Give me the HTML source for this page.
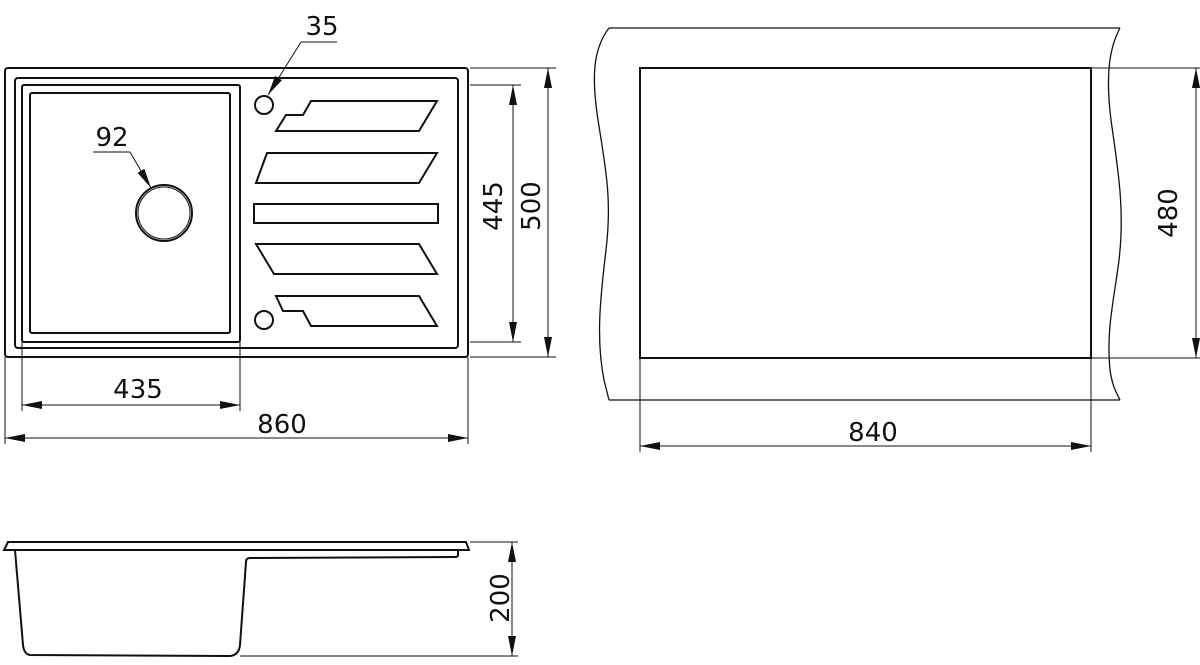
<!DOCTYPE html>
<html><head><meta charset="utf-8"><style>html,body{margin:0;padding:0;background:#fff}</style></head><body>
<svg width="1200" height="660" viewBox="0 0 1200 660" xmlns="http://www.w3.org/2000/svg" font-family="DejaVu Sans, Liberation Sans, sans-serif" font-size="26" fill="none" stroke="#111">
<defs>
<marker id="a" viewBox="0 0 20 8" refX="20" refY="4" markerWidth="20" markerHeight="8" markerUnits="userSpaceOnUse" orient="auto-start-reverse"><path d="M0,0 L20,4 L0,8 z" fill="#111" stroke="none"/></marker>
</defs>
<g stroke-width="2">
<rect x="5" y="68" width="463" height="289" rx="3"/>
<rect x="15" y="78" width="443" height="270" rx="3"/>
<rect x="22" y="85" width="218" height="257" rx="2"/>
<rect x="30" y="93" width="200" height="240" rx="2"/>
<circle cx="164" cy="213" r="28"/>
<circle cx="164" cy="213" r="26" stroke-width="1"/>
<circle cx="264" cy="105" r="9"/>
<circle cx="264" cy="320" r="9"/>
<path d="M276,131 L286,115 L303,115 L311,101 L437,101 L419,131 Z"/>
<path d="M256,183 L267,153 L437,153 L419,183 Z"/>
<rect x="254" y="204" width="184" height="19"/>
<path d="M256,244 L419,244 L437,274 L274,274 Z"/>
<path d="M276,296 L419,296 L437,326 L311,326 L303,311 L283,311 Z"/>
</g>
<g stroke-width="1">
<path d="M22,342 V411 M240,342 V411 M5,357 V444 M468,357 V444"/>
<path d="M470,85 H521 M470,342 H521 M470,68 H556 M470,357 H556"/>
<line x1="22" y1="405" x2="240" y2="405" marker-start="url(#a)" marker-end="url(#a)"/>
<line x1="5" y1="438" x2="468" y2="438" marker-start="url(#a)" marker-end="url(#a)"/>
<line x1="513" y1="85" x2="513" y2="342" marker-start="url(#a)" marker-end="url(#a)"/>
<line x1="548" y1="68" x2="548" y2="357" marker-start="url(#a)" marker-end="url(#a)"/>
<path d="M337,42 H301"/><line x1="301" y1="42" x2="268" y2="95" marker-end="url(#a)"/>
<path d="M93,152 H130"/><line x1="130" y1="152" x2="151" y2="188" marker-end="url(#a)"/>
</g>
<g fill="#111" stroke="none">
<text x="138" y="398" text-anchor="middle">435</text>
<text x="282" y="433" text-anchor="middle">860</text>
<text x="322" y="35" text-anchor="middle">35</text>
<text x="112" y="146" text-anchor="middle">92</text>
<text transform="translate(502,206) rotate(-90)" text-anchor="middle">445</text>
<text transform="translate(540,206) rotate(-90)" text-anchor="middle">500</text>
<text transform="translate(1177,213) rotate(-90)" text-anchor="middle">480</text>
<text x="873" y="441" text-anchor="middle">840</text>
<text transform="translate(509,598) rotate(-90)" text-anchor="middle">200</text>
</g>
<!-- right panel -->
<g stroke-width="1.3">
<path d="M609,28 H1120"/>
<path d="M609,400 H1120"/>
<path d="M609,28 C592,50 592,80 598,120 C606,170 612,200 606,250 C600,300 596,340 604,380 L609,400"/>
<path d="M1120,28 C1108,50 1106,80 1111,120 C1118,170 1125,210 1119,260 C1114,300 1106,330 1110,370 C1112,385 1116,392 1120,400"/>
</g>
<rect x="640" y="68" width="451" height="290" stroke-width="2"/>
<g stroke-width="1">
<path d="M1091,68 H1200 M1091,358 H1200 M640,358 V452 M1091,358 V452"/>
<line x1="1196" y1="68" x2="1196" y2="358" marker-start="url(#a)" marker-end="url(#a)"/>
<line x1="640" y1="446" x2="1091" y2="446" marker-start="url(#a)" marker-end="url(#a)"/>
</g>
<!-- side view -->
<g stroke-width="2">
<path d="M8,542 H466 L469,550 H4 Z"/>
<path d="M458,550 V555 Q458,557 455,557 L250,558 Q246,558 246,562 L240,645 Q239,655 230,656 L30,655 Q24,654 23,645 L15,550"/>
</g>
<g stroke-width="1">
<path d="M470,542 H518 M240,656 H518"/>
<line x1="512" y1="542" x2="512" y2="656" marker-start="url(#a)" marker-end="url(#a)"/>
</g>
</svg>
</body></html>
